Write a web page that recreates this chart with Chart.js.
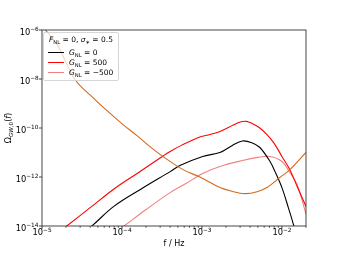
<!DOCTYPE html>
<html>
<head>
<meta charset="utf-8">
<script src="https://cdn.jsdelivr.net/npm/chart.js@4/dist/chart.umd.min.js"></script>
<style>
html,body{margin:0;padding:0;background:#fff;}
#wrap{position:relative;width:340px;height:255px;overflow:hidden;font-family:"DejaVu Sans",sans-serif;color:#000;}
#c{position:absolute;left:0;top:0;}
#legend{position:absolute;left:43px;top:32px;width:76px;height:49px;border:1px solid #d6d6d6;border-radius:2px;background:rgba(255,255,255,0.72);box-sizing:border-box;font-size:7.5px;line-height:1;}
#legend .t{position:absolute;left:0;right:0;top:3px;text-align:center;white-space:nowrap;}
#legend .row{position:absolute;left:4px;white-space:nowrap;}
#legend .sw{display:inline-block;width:16px;height:0;border-top:1.2px solid #000;vertical-align:middle;margin-right:5px;}
#legend sub{font-size:70%;vertical-align:-1.5px;line-height:0;}
#ytitle{position:absolute;left:8px;top:128px;transform:translate(-50%,-50%) rotate(-90deg);font-size:8px;white-space:nowrap;}
#ytitle sub{font-size:70%;vertical-align:-2px;line-height:0;}
.tl{position:absolute;font-size:8.3px;line-height:1;white-space:nowrap;}
.tl sup{font-size:70%;position:relative;top:-3.6px;vertical-align:baseline;line-height:0;}
</style>
</head>
<body>
<div id="wrap">
<canvas id="c" width="340" height="255"></canvas>
<div id="ytitle">Ω<sub><i>GW</i>,0</sub>(<i>f</i>)</div>
<div id="legend">
  <div class="t"><i>F</i><sub>NL</sub> = 0, <i>σ</i><sub>∗</sub> = 0.5</div>
  <div class="row" style="top:16px"><span class="sw" style="border-color:#000"></span><i>G</i><sub>NL</sub> = 0</div>
  <div class="row" style="top:26px"><span class="sw" style="border-color:#ff0000"></span><i>G</i><sub>NL</sub> = 500</div>
  <div class="row" style="top:36px"><span class="sw" style="border-color:#f08080"></span><i>G</i><sub>NL</sub> = −500</div>
</div>
</div>
<script>
// ---- data ----
const freqSens  = [1.0e-5, 1.12e-5, 1.58e-5, 2.58e-5, 4.6e-5, 6.5e-5, 1.03e-4, 1.54e-4, 2.24e-4, 3.25e-4, 5.8e-4, 9.4e-4, 1.68e-3, 2.37e-3, 3.45e-3, 4.9e-3, 6.5e-3, 9.4e-3, 1.26e-2, 2.0e-2];
const omegaSens = [1.5e-6, 9.5e-7, 2.3e-7, 9.5e-9, 1.45e-9, 5.1e-10, 1.38e-10, 4.9e-11, 1.74e-11, 6.9e-12, 2.0e-12, 1.0e-12, 3.7e-13, 2.6e-13, 2.1e-13, 2.5e-13, 3.7e-13, 9.5e-13, 2.0e-12, 1.0e-11];

const freqG0  = [3.16e-5, 4.2e-5, 7.9e-5, 1.78e-4, 4.0e-4, 5.3e-4, 1.02e-3, 1.68e-3, 2.4e-3, 3.2e-3, 4.2e-3, 5.3e-3, 7.1e-3, 8.2e-3, 1.0e-2, 1.2e-2, 1.41e-2, 1.58e-2];
const omegaG0 = [5.0e-15, 1.0e-14, 6.3e-14, 3.4e-13, 1.66e-12, 2.95e-12, 6.9e-12, 1.0e-11, 1.95e-11, 2.95e-11, 2.5e-11, 1.6e-11, 4.3e-12, 1.66e-12, 3.7e-13, 5.8e-14, 1.0e-14, 2.0e-15];

const freqG500  = [1.5e-5, 2.04e-5, 4.0e-5, 8.1e-5, 1.6e-4, 3.2e-4, 4.0e-4, 5.6e-4, 9.4e-4, 1.26e-3, 1.68e-3, 2.5e-3, 3.0e-3, 3.6e-3, 4.3e-3, 5.2e-3, 6.5e-3, 8.0e-3, 1.0e-2, 1.26e-2, 1.55e-2, 2.0e-2];
const omegaG500 = [4.5e-15, 1.0e-14, 5.6e-14, 3.4e-13, 1.5e-12, 6.9e-12, 1.1e-11, 2.0e-11, 4.3e-11, 5.4e-11, 7.2e-11, 1.35e-10, 1.75e-10, 1.86e-10, 1.5e-10, 1.05e-10, 5.4e-11, 2.35e-11, 6.9e-12, 1.95e-12, 4.1e-13, 6.3e-14];

const freqGm500  = [7.9e-5, 1.06e-4, 2.0e-4, 4.0e-4, 6.3e-4, 1.02e-3, 1.68e-3, 3.2e-3, 5.0e-3, 7.1e-3, 1.0e-2, 1.26e-2, 1.55e-2, 2.0e-2];
const omegaGm500 = [5.0e-15, 1.0e-14, 4.7e-14, 2.3e-13, 5.4e-13, 1.4e-12, 2.7e-12, 4.7e-12, 6.3e-12, 6.9e-12, 4.3e-12, 1.5e-12, 5.0e-13, 3.0e-14];

const xTickValues = [1e-5, 1e-4, 1e-3, 1e-2];
const xTickExps = ['−5', '−4', '−3', '−2'];
const xMinorValues = [2e-5,3e-5,4e-5,5e-5,6e-5,7e-5,8e-5,9e-5,2e-4,3e-4,4e-4,5e-4,6e-4,7e-4,8e-4,9e-4,2e-3,3e-3,4e-3,5e-3,6e-3,7e-3,8e-3,9e-3,2e-2];
const yTickValues = [1e-14, 1e-12, 1e-10, 1e-8, 1e-6];
const yTickExps = ['−14', '−12', '−10', '−8', '−6'];

function pts(f, o){ return f.map((v,i)=>({x:v, y:o[i]})); }

const frame = {
  id:'frame',
  afterDraw(chart){
    const ctx = chart.ctx, a = chart.chartArea;
    const xs = chart.scales.x, ys = chart.scales.y;
    ctx.save();
    ctx.strokeStyle = '#333';
    ctx.lineWidth = 0.9;
    ctx.strokeRect(a.left, a.top, a.right - a.left, a.bottom - a.top);
    ctx.beginPath();
    xTickValues.forEach(v=>{ const p = xs.getPixelForValue(v); ctx.moveTo(p, a.bottom); ctx.lineTo(p, a.bottom + 3); });
    xMinorValues.forEach(v=>{ const p = xs.getPixelForValue(v); ctx.moveTo(p, a.bottom); ctx.lineTo(p, a.bottom + 1.7); });
    yTickValues.forEach(v=>{ const p = ys.getPixelForValue(v); ctx.moveTo(a.left, p); ctx.lineTo(a.left - 3, p); });
    ctx.stroke();
    ctx.restore();
  }
};

const lineOpts = {borderWidth:1.1, pointRadius:0, fill:false, tension:0.35};

const chart = new Chart(document.getElementById('c'), {
  type:'line',
  data:{
    datasets:[
      Object.assign({label:'sensitivity', data:pts(freqSens, omegaSens), borderColor:'#d2691e'}, lineOpts),
      Object.assign({label:'G_NL = 0', data:pts(freqG0, omegaG0), borderColor:'#000000'}, lineOpts),
      Object.assign({label:'G_NL = 500', data:pts(freqG500, omegaG500), borderColor:'#ff0000'}, lineOpts),
      Object.assign({label:'G_NL = -500', data:pts(freqGm500, omegaGm500), borderColor:'#f08080'}, lineOpts)
    ]
  },
  options:{
    responsive:false,
    animation:false,
    devicePixelRatio:1,
    layout:{padding:{left:0, top:30, right:34, bottom:0}},
    plugins:{legend:{display:false}, tooltip:{enabled:false}},
    scales:{
      x:{
        type:'logarithmic', min:1e-5, max:2e-2,
        afterBuildTicks(s){ s.ticks = xTickValues.concat(xMinorValues).sort((a,b)=>a-b).map(v=>({value:v})); },
        afterFit(s){ s.height = 29; },
        grid:{display:false, drawTicks:false},
        border:{display:false},
        ticks:{display:false},
        title:{display:true, text:'f / Hz', color:'#000', font:{family:'DejaVu Sans', size:8}, padding:{top:6.5, bottom:6.5}}
      },
      y:{
        type:'logarithmic', min:1e-14, max:1e-6,
        afterBuildTicks(s){ s.ticks = yTickValues.map(v=>({value:v})); },
        afterFit(s){ s.width = 42; },
        grid:{display:false, drawTicks:false},
        border:{display:false},
        ticks:{display:false}
      }
    }
  },
  plugins:[frame]
});

// tick labels as real text, placed through the chart's own scales
(function(){
  const wrap = document.getElementById('wrap');
  const xs = chart.scales.x, ys = chart.scales.y, a = chart.chartArea;
  xTickValues.forEach((v,i)=>{
    const el = document.createElement('span');
    el.className = 'tl';
    el.innerHTML = '10<sup>' + xTickExps[i] + '</sup>';
    wrap.appendChild(el);
    el.style.left = (xs.getPixelForValue(v) - el.offsetWidth/2) + 'px';
    el.style.top = (a.bottom + 2.3) + 'px';
  });
  yTickValues.forEach((v,i)=>{
    const el = document.createElement('span');
    el.className = 'tl';
    el.innerHTML = '10<sup>' + yTickExps[i] + '</sup>';
    wrap.appendChild(el);
    el.style.left = (a.left - 3.3 - el.offsetWidth) + 'px';
    el.style.top = (ys.getPixelForValue(v) - 2.5) + 'px';
  });
})();
</script>
</body>
</html>
